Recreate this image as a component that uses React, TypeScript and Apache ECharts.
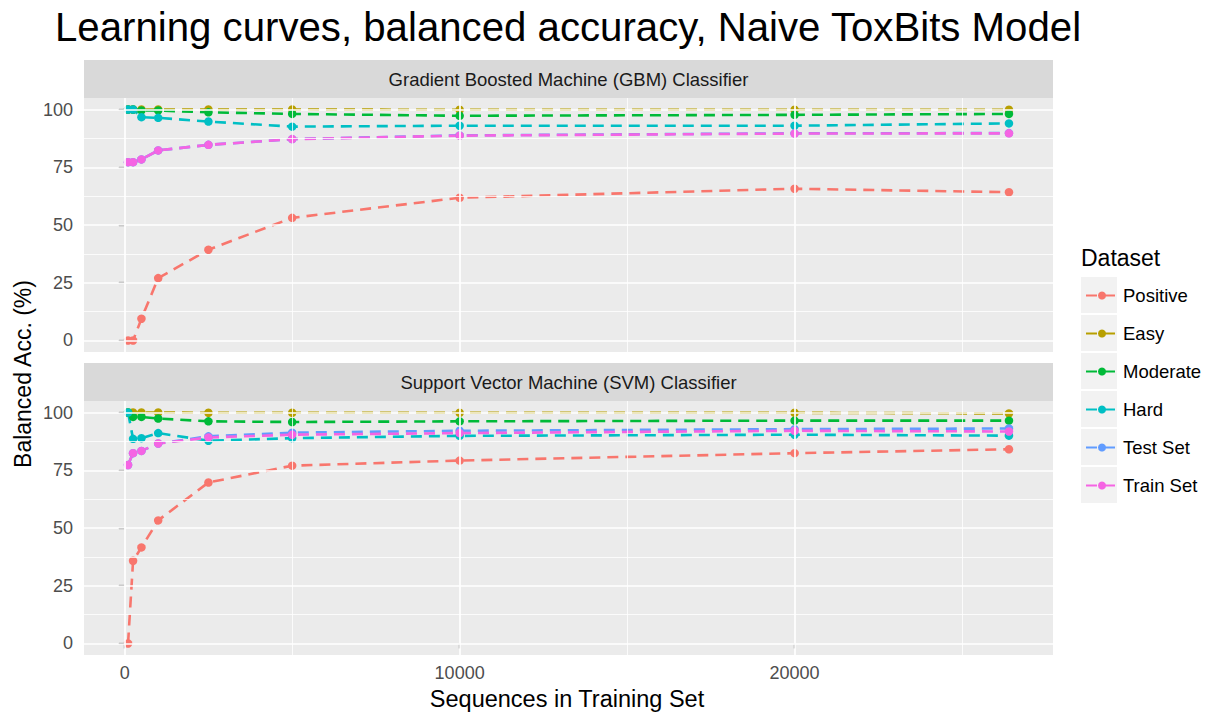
import React, { useEffect, useRef } from "react";
import * as echarts from "echarts";

const xValues = [100, 250, 500, 1000, 2500, 5000, 10000, 20000, 26400];
const datasetNames = ["Positive", "Easy", "Moderate", "Hard", "Test Set", "Train Set"];
const datasetColors = ["#F8766D", "#B79F00", "#00BA38", "#00BFC4", "#619CFF", "#F564E3"];
const panelTitles = ["Gradient Boosted Machine (GBM) Classifier", "Support Vector Machine (SVM) Classifier"];

const gbmPositive = [0, 0, 9.4, 27, 39.3, 53.1, 61.8, 65.7, 64.2];
const gbmEasy = [100, 100, 100, 100, 100, 100, 99.9, 99.9, 99.9];
const gbmModerate = [100, 100, 99.6, 99.6, 98.8, 98.1, 97.3, 97.7, 98.1];
const gbmHard = [100, 100, 96.7, 96.4, 94.8, 92.6, 93, 93, 94];
const gbmTest = [77.2, 77.2, 78.4, 82.3, 84.7, 87.2, 88.8, 89.7, 89.8];
const gbmTrain = [77.2, 77.2, 78.4, 82.3, 84.7, 87.2, 88.7, 89.6, 89.7];

const svmPositive = [0, 35.8, 41.6, 53.3, 69.7, 77, 79.2, 82.4, 84.1];
const svmEasy = [100, 100, 100, 100, 99.9, 99.9, 99.9, 99.9, 99.6];
const svmModerate = [100, 98.1, 98.1, 97.4, 96.2, 95.9, 96.2, 96.5, 96.5];
const svmHard = [100, 88.6, 88.9, 91.1, 87.8, 88.9, 89.9, 90.4, 90];
const svmTest = [77.3, 82.4, 83.4, 86.6, 89.7, 91.3, 92.1, 92.8, 93.1];
const svmTrain = [77.3, 82.4, 83.4, 86.6, 89.2, 90.4, 91.1, 92.1, 91.8];

const yTicks = [0, 25, 50, 75, 100];
const yMinor = [12.5, 37.5, 62.5, 87.5];
const xTicks = [0, 10000, 20000];
const xMinor = [5000, 15000, 25000];

const panelData = [
  [gbmPositive, gbmEasy, gbmModerate, gbmHard, gbmTest, gbmTrain],
  [svmPositive, svmEasy, svmModerate, svmHard, svmTest, svmTrain],
];

const FONT = "Liberation Sans, Arial, Helvetica, sans-serif";

export default function App() {
  const ref = useRef<HTMLDivElement>(null);
  useEffect(() => {
    if (!ref.current) return;
    const chart = echarts.init(ref.current, null, { renderer: "svg" });
    const gridLeft = 84;
    const gridWidth = 969;
    const gridTops = [98, 401];
    const gridH = 254;
    const stripH = 38;

    const series: any[] = [];
    [0, 1].forEach((p) => {
      series.push({
        type: "line",
        name: "__grid" + p,
        xAxisIndex: p,
        yAxisIndex: p,
        data: [],
        silent: true,
        z: 1,
        markLine: {
          silent: true,
          symbol: ["none", "none"],
          label: { show: false },
          animation: false,
          data: [
            ...xMinor.map((v) => ({ xAxis: v, lineStyle: { color: "#fff", width: 0.8, type: "solid" } })),
            ...yMinor.map((v) => ({ yAxis: v, lineStyle: { color: "#fff", width: 0.8, type: "solid" } })),
            ...xTicks.map((v) => ({ xAxis: v, lineStyle: { color: "#fff", width: 1.7, type: "solid" } })),
            ...yTicks.map((v) => ({ yAxis: v, lineStyle: { color: "#fff", width: 1.7, type: "solid" } })),
          ],
        },
      });
      datasetNames.forEach((name, i) => {
        series.push({
          type: "line",
          name,
          xAxisIndex: p,
          yAxisIndex: p,
          z: 3,
          symbol: "circle",
          symbolSize: 8.5,
          showSymbol: true,
          data: xValues.map((x, j) => [x, panelData[p][i][j]]),
          lineStyle: { color: datasetColors[i], width: 2.6, type: [11, 7] },
          itemStyle: { color: datasetColors[i] },
        });
      });
    });

    const graphics: any[] = [];
    [0, 1].forEach((p) => {
      graphics.push({
        type: "rect",
        shape: { x: gridLeft, y: gridTops[p] - stripH, width: gridWidth, height: stripH },
        style: { fill: "#D9D9D9" },
        silent: true,
      });
      graphics.push({
        type: "text",
        x: gridLeft + gridWidth / 2,
        y: gridTops[p] - stripH / 2,
        style: {
          text: panelTitles[p],
          fill: "#1A1A1A",
          font: `18.5px ${FONT}`,
          align: "center",
          verticalAlign: "middle",
        },
      });
    });
    datasetNames.forEach((_, i) => {
      graphics.push({
        type: "rect",
        shape: { x: 1081, y: 277 + i * 38, width: 36, height: 36 },
        style: { fill: "#F2F2F2" },
        z: -1,
        silent: true,
      });
    });
    graphics.push({
      type: "text",
      x: 1081,
      y: 258,
      style: { text: "Dataset", fill: "#000", font: `23px ${FONT}`, align: "left", verticalAlign: "middle" },
    });
    graphics.push({
      type: "text",
      x: 567,
      y: 699,
      style: { text: "Sequences in Training Set", fill: "#000", font: `23.5px ${FONT}`, align: "center", verticalAlign: "middle" },
    });
    graphics.push({
      type: "text",
      x: 23,
      y: 374,
      rotation: Math.PI / 2,
      style: { text: "Balanced Acc. (%)", fill: "#000", font: `23px ${FONT}`, align: "center", verticalAlign: "middle" },
    });

    chart.setOption({
      animation: false,
      backgroundColor: "#fff",
      textStyle: { fontFamily: FONT },
      title: {
        text: "Learning curves, balanced accuracy, Naive ToxBits Model",
        left: 50,
        top: 2,
        textStyle: { fontSize: 40.2, fontWeight: "normal", color: "#000", fontFamily: FONT },
      },
      grid: gridTops.map((t) => ({
        left: gridLeft,
        top: t,
        width: gridWidth,
        height: gridH,
        show: true,
        backgroundColor: "#EBEBEB",
        borderWidth: 0,
      })),
      xAxis: [0, 1].map((p) => ({
        type: "value",
        gridIndex: p,
        min: -1215,
        max: 27715,
        axisLine: { show: true, lineStyle: { color: "rgba(0,0,0,0)", width: 0 } },
        splitLine: { show: false },
        axisTick: {
          show: p === 1,
          customValues: xTicks,
          length: 5,
          lineStyle: { color: "#333", width: 1.2 },
        },
        axisLabel: {
          show: p === 1,
          customValues: xTicks,
          formatter: (v: number) => String(v),
          fontSize: 18,
          color: "#4D4D4D",
          margin: 9,
          fontFamily: FONT,
        },
      })),
      yAxis: [0, 1].map((p) => ({
        type: "value",
        gridIndex: p,
        min: -5,
        max: 105,
        axisLine: { show: true, lineStyle: { color: "rgba(0,0,0,0)", width: 0 } },
        splitLine: { show: false },
        axisTick: {
          show: true,
          customValues: yTicks,
          length: 6,
          lineStyle: { color: "#333", width: 1.2 },
        },
        axisLabel: {
          customValues: yTicks,
          formatter: (v: number) => String(v),
          fontSize: 18,
          color: "#4D4D4D",
          margin: 11,
          fontFamily: FONT,
        },
      })),
      legend: {
        data: datasetNames,
        orient: "vertical",
        left: 1085,
        top: 286,
        padding: 0,
        itemWidth: 32,
        itemHeight: 10,
        itemGap: 19,
        textStyle: { fontSize: 18.5, color: "#000", fontFamily: FONT },
      },
      graphic: graphics,
      series,
    });
    return () => chart.dispose();
  }, []);
  return (
    <div
      ref={ref}
      style={{ position: "absolute", left: 0, top: 0, width: 1210, height: 715 }}
    />
  );
}
